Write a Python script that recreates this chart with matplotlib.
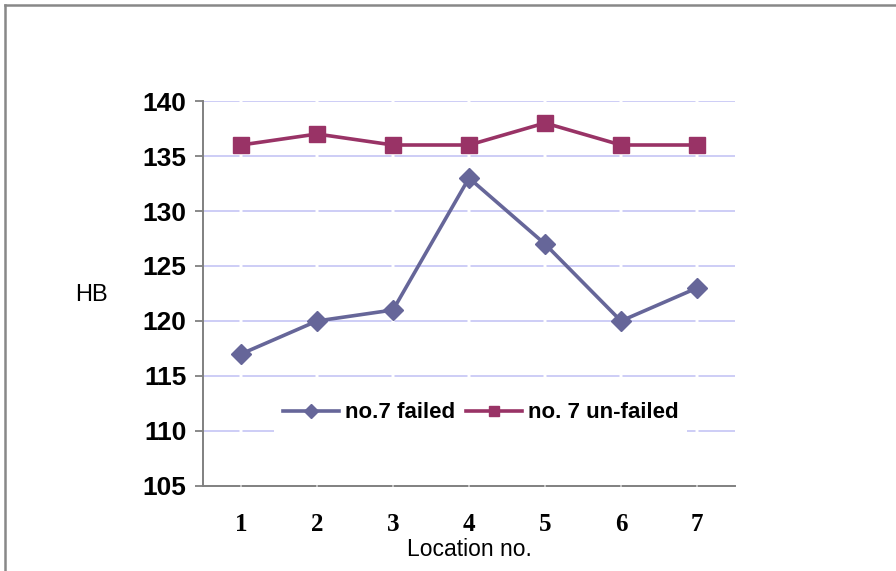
import matplotlib
matplotlib.use("Agg")
import matplotlib.pyplot as plt
from matplotlib.lines import Line2D

locations = [1, 2, 3, 4, 5, 6, 7]
failed = [117, 120, 121, 133, 127, 120, 123]
unfailed = [136, 137, 136, 136, 138, 136, 136]
yticks = [105, 110, 115, 120, 125, 130, 135, 140]

plt.rcParams['lines.scale_dashes'] = False
DPI = 100
fig = plt.figure(figsize=(8.96, 5.71), dpi=DPI)
ax = fig.add_axes([0.2266, 0.1489, 0.5937, 0.6742])

px = 72.0 / DPI
gap_ls = (73 * px - 36.5 * px, (73 * px, 3 * px))
for y in yticks[1:]:
    ax.axhline(y, color='#cdcdf6', lw=1.4, ls=gap_ls, zorder=0)

ax.plot(locations, failed, color='#666699', lw=2.6, marker='D', ms=10.5,
        label='no.7 failed', zorder=3)
ax.plot(locations, unfailed, color='#993366', lw=2.6, marker='s', ms=11,
        label='no. 7 un-failed', zorder=3)

ax.set_xlim(0.5, 7.5)
ax.set_ylim(105, 140)
ax.set_yticks(yticks)
ax.set_xticks(locations)

for s in ['top', 'right']:
    ax.spines[s].set_visible(False)
ax.spines['left'].set_color('#808080')
ax.spines['left'].set_linewidth(1.4)
ax.spines['bottom'].set_color('#808080')
ax.spines['bottom'].set_linewidth(1.4)
ax.spines['bottom'].set_linestyle(gap_ls)

ax.tick_params(axis='y', direction='out', length=6, width=1.3, color='#808080', pad=6)
ax.tick_params(axis='x', length=0, pad=19.5)
for lab in ax.get_yticklabels():
    lab.set_fontfamily('Liberation Sans')
    lab.set_fontweight('bold')
    lab.set_fontsize(19)
for lab in ax.get_xticklabels():
    lab.set_fontfamily('Liberation Serif')
    lab.set_fontweight('bold')
    lab.set_fontsize(18)

ax.set_xlabel('Location no.', fontfamily='Liberation Sans', fontsize=16.5, labelpad=1.5)
ax.set_ylabel('HB', fontfamily='Liberation Sans', fontsize=17, rotation=0,
              va='center', ha='center')
ax.yaxis.set_label_coords((91 - 203) / 532, (486 - 295) / 385)

leg = ax.legend(loc='center', bbox_to_anchor=(0.5216, 0.19), ncol=2, frameon=True,
                facecolor='white', edgecolor='none', framealpha=1,
                prop={'family': 'Liberation Sans', 'weight': 'bold', 'size': 16},
                handlelength=2.55, handletextpad=0.23, columnspacing=0.5,
                borderpad=0.4, fancybox=False, markerscale=0.7)
leg.set_zorder(4)

# outer frame (top and left edges visible)
fig.add_artist(Line2D([5 / 896, 1], [1 - 5 / 571, 1 - 5 / 571], color='#888888', lw=1.8,
                      transform=fig.transFigure))
fig.add_artist(Line2D([5 / 896, 5 / 896], [0, 1 - 5 / 571], color='#888888', lw=1.8,
                      transform=fig.transFigure))

fig.savefig('out.png', dpi=DPI)
